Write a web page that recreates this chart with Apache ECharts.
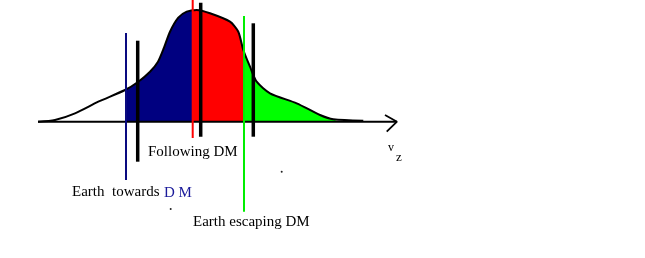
<!DOCTYPE html>
<html>
<head>
<meta charset="utf-8">
<script src="https://cdn.jsdelivr.net/npm/echarts@6/dist/echarts.min.js"></script>
<style>html,body{margin:0;padding:0;background:#fff;}#c{width:645px;height:258px;}</style>
</head>
<body>
<div id="c"></div>
<script>
// distribution curve f(v_z) (v_z units, f units; baseline f = 0)
var curveV = [38, 55, 75, 98.3, 125, 138.3, 150, 158, 164, 170, 178.3, 186.7, 196.7, 210, 230, 238.3, 243.3, 250, 256.7, 270, 296.7, 320, 333.3, 363.3];
var curveF = [0, 1.7, 8.4, 20, 31.7, 40, 50, 60, 74, 90, 104, 110, 111.7, 108.4, 100, 90, 71.7, 55, 40, 28.4, 18.4, 6.7, 2.4, 1];
// shaded regions
var navyV = [126, 138.3, 150, 158, 164, 170, 178.3, 186.7, 192.7];
var navyF = [32, 40, 50, 60, 74, 90, 104, 110, 111.2];
var redV = [192.7, 196.7, 210, 230, 238.3, 244];
var redF = [111.2, 111.7, 108.4, 100, 90, 70];
var greenV = [244, 250, 256.7, 270, 296.7, 320, 333.3, 338];
var greenF = [70, 55, 40, 28.4, 18.4, 6.7, 2.4, 0];
// vertical markers: position, top, bottom
var markV = [126, 137.7, 192.7, 200.7, 244, 253.3];
var markTop = [88.7, 81, 121.7, 119, 105.7, 98.4];
var markBottom = [-58.3, -40, -16.3, -15, -90, -15];
var markColor = ['#0a0a80', '#000', '#ff0000', '#000', '#00ee00', '#000'];
var markWidth = [2, 3.5, 2, 3.5, 2, 3.5];
// axis
var axisStart = 38, axisEnd = 397;
var arrowV = [385, 397, 386.7];
var arrowF = [6.7, 0, -10];
// labels
var labelText = ['Following DM', 'Earth  towards', 'D M', 'Earth escaping DM', 'v', 'z'];
var labelV = [148, 72, 164, 193, 388, 396];
var labelF = [-30.5, -70.5, -71, -100.5, -26, -36];
var labelColor = ['#000', '#000', '#1a1a9a', '#000', '#000', '#000'];
var labelSize = [15, 15, 15, 15, 12, 13];
var dotV = [281.7, 170.7];
var dotF = [-50, -87.3];

function zip(a, b) { return a.map(function (v, i) { return [v, b[i]]; }); }

var series = [];
function area(v, f, color) {
  series.push({ type: 'line', data: zip(v, f), symbol: 'none', smooth: 0.25, clip: false,
    lineStyle: { width: 0 }, areaStyle: { color: color, opacity: 1 }, z: 1 });
}
area(navyV, navyF, '#000080');
area(redV, redF, '#ff0000');
area(greenV, greenF, '#00ff00');
series.push({ type: 'line', data: [[axisStart, 0], [axisEnd, 0]], symbol: 'none', clip: false,
  lineStyle: { color: '#000', width: 2 }, z: 3 });
series.push({ type: 'line', data: zip(arrowV, arrowF), symbol: 'none', clip: false,
  lineStyle: { color: '#000', width: 1.8 }, z: 3 });
series.push({ type: 'line', data: zip(curveV, curveF), symbol: 'none', smooth: 0.25, clip: false,
  lineStyle: { color: '#000', width: 2 }, z: 4 });
markV.forEach(function (x, i) {
  series.push({ type: 'line', data: [[x, markTop[i]], [x, markBottom[i]]], symbol: 'none', clip: false,
    lineStyle: { color: markColor[i], width: markWidth[i] }, z: 5 + (markColor[i] === '#000' ? 1 : 0) });
});
series.push({ type: 'scatter', data: labelText.map(function (t, i) {
    return { value: [labelV[i], labelF[i]], label: { formatter: t, color: labelColor[i], fontSize: labelSize[i] } };
  }), symbolSize: 0, clip: false, z: 10, itemStyle: { opacity: 1 },
  label: { show: true, position: 'right', distance: 0, fontFamily: 'Liberation Serif', verticalAlign: 'middle' } });
series.push({ type: 'scatter', data: zip(dotV, dotF), symbolSize: 2, itemStyle: { color: '#222', opacity: 1 }, clip: false, z: 10 });

var chart = echarts.init(document.getElementById('c'), null, { renderer: 'canvas' });
chart.setOption({
  animation: false,
  backgroundColor: '#fff',
  grid: { left: 0, right: 0, top: 0, bottom: 0 },
  xAxis: { type: 'value', min: 0, max: 645, show: false },
  yAxis: { type: 'value', min: -136.3, max: 121.7, show: false },
  series: series
});
</script>
</body>
</html>
